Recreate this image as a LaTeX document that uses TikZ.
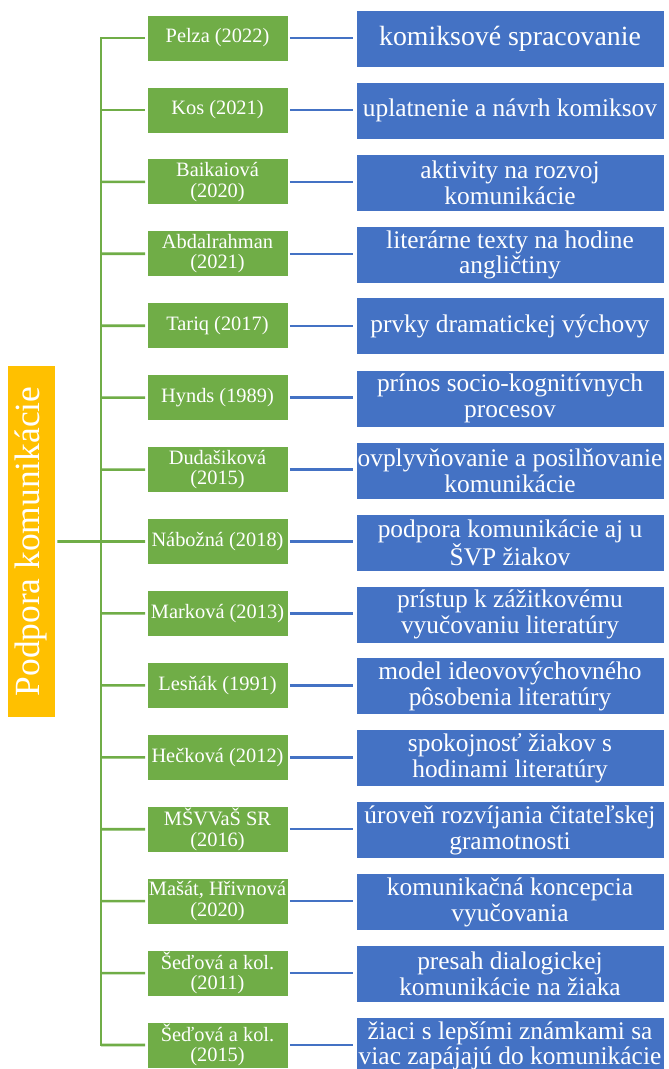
\documentclass[tikz,border=0pt]{standalone}
\usepackage{fontspec}
\setmainfont{Liberation Serif}
\definecolor{grn}{HTML}{70AD47}
\definecolor{blu}{HTML}{4472C4}
\definecolor{orn}{HTML}{FFC000}
\begin{document}
\begin{tikzpicture}[x=1pt,y=-1pt,
  gbox/.style={fill=grn, draw=white, line width=0.8pt, minimum width=141pt, minimum height=46pt,
    text=white, align=center, inner sep=0pt, font=\fontsize{20.4}{20.5}\selectfont},
  bbox/.style={fill=blu, draw=white, line width=0.8pt, minimum width=308pt, minimum height=57pt,
    text=white, align=center, inner sep=0pt, font=\fontsize{25.4}{25.6}\selectfont},
  rootbox/.style={fill=orn, draw=white, line width=0.8pt, minimum width=352pt, minimum height=48pt,
    text=white, inner sep=0pt, rotate=90, font=\fontsize{35.4}{36}\selectfont},
  gline/.style={draw=grn, line width=2.6pt},
  bline/.style={draw=blu, line width=2.4pt}]
\useasboundingbox (0,0) rectangle (669,1069);
\fill[white] (0,0) rectangle (669,1069);

\node[rootbox] (root) at (31,541.5) {Podpora komunikácie};

\node[gbox] (g1)  at (217.5,38)      {Pelza (2022)};
\node[gbox] (g2)  at (217.5,109.93)  {Kos (2021)};
\node[gbox] (g3)  at (217.5,181.86)  {Baikaiová\\(2020)};
\node[gbox] (g4)  at (217.5,253.79)  {Abdalrahman\\(2021)};
\node[gbox] (g5)  at (217.5,325.72)  {Tariq (2017)};
\node[gbox] (g6)  at (217.5,397.65)  {Hynds (1989)};
\node[gbox] (g7)  at (217.5,469.58)  {Dudašiková\\(2015)};
\node[gbox] (g8)  at (217.5,541.51)  {Nábožná (2018)};
\node[gbox] (g9)  at (217.5,613.44)  {Marková (2013)};
\node[gbox] (g10) at (217.5,685.37)  {Lesňák (1991)};
\node[gbox] (g11) at (217.5,757.30)  {Hečková (2012)};
\node[gbox] (g12) at (217.5,829.23)  {MŠVVaŠ SR\\(2016)};
\node[gbox] (g13) at (217.5,901.16)  {Mašát, Hřivnová\\(2020)};
\node[gbox] (g14) at (217.5,973.09)  {Šeďová a kol.\\(2011)};
\node[gbox] (g15) at (217.5,1045.02) {Šeďová a kol.\\(2015)};

\node[bbox, font=\fontsize{27.8}{28}\selectfont] (b1) at (510,38.5) {komiksové spracovanie};
\node[bbox] (b2)  at (510,110.43)  {uplatnenie a návrh komiksov};
\node[bbox] (b3)  at (510,182.86)  {aktivity na rozvoj\\komunikácie};
\node[bbox] (b4)  at (510,254.79)  {literárne texty na hodine\\angličtiny};
\node[bbox] (b5)  at (510,326.22)  {prvky dramatickej výchovy};
\node[bbox] (b6)  at (510,398.65)  {prínos socio-kognitívnych\\procesov};
\node[bbox] (b7)  at (510,470.58)  {ovplyvňovanie a posilňovanie\\komunikácie};
\node[bbox] (b8)  at (510,542.51)  {podpora komunikácie aj u\\ŠVP žiakov};
\node[bbox] (b9)  at (510,614.44)  {prístup k zážitkovému\\vyučovaniu literatúry};
\node[bbox] (b10) at (510,686.37)  {model ideovovýchovného\\pôsobenia literatúry};
\node[bbox] (b11) at (510,758.30)  {spokojnosť žiakov s\\hodinami literatúry};
\node[bbox] (b12) at (510,830.23)  {úroveň rozvíjania čitateľskej\\gramotnosti};
\node[bbox] (b13) at (510,902.16)  {komunikačná koncepcia\\vyučovania};
\node[bbox] (b14) at (510,974.09)  {presah dialogickej\\komunikácie na žiaka};
\node[bbox] (b15) at (510,1046.02) {žiaci s lepšími známkami sa\\viac zapájajú do komunikácie};

\foreach \i in {1,...,15} {
  \coordinate (t\i) at (101,{38+(\i-1)*71.93});
}
\draw[gline, line cap=rect] (t1) -- (t15);
\foreach \i in {1,...,15} {
  \draw[gline, shorten >=1.5pt] (t\i) -- (g\i.west);
  \draw[bline, shorten <=1.5pt, shorten >=2.5pt] (g\i.east) -- (g\i.east -| b\i.west);
}
\draw[gline, shorten <=2pt] (root) -- (t8);
\end{tikzpicture}
\end{document}
